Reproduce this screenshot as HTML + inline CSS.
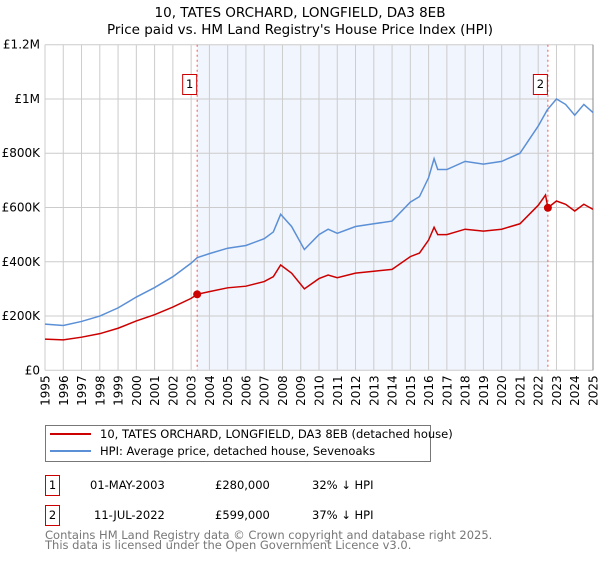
<!DOCTYPE html>
<html><head><meta charset="utf-8"><style>
body{margin:0;background:#fff;font-family:"DejaVu Sans","Liberation Sans",sans-serif;}
svg text{font-family:"DejaVu Sans","Liberation Sans",sans-serif;}
</style></head><body>
<svg id="c" width="600" height="560" xmlns="http://www.w3.org/2000/svg">
<text x="300" y="17" text-anchor="middle" font-size="13.5">10, TATES ORCHARD, LONGFIELD, DA3 8EB</text>
<text x="300" y="34" text-anchor="middle" font-size="13.5">Price paid vs. HM Land Registry's House Price Index (HPI)</text>
<g id="plot"></g>
<g>
<rect x="45.5" y="425.5" width="385" height="36" fill="#fff" stroke="#777"/>
<line x1="50" y1="434" x2="91" y2="434" stroke="#cc0000" stroke-width="2"/>
<text x="100" y="438" font-size="11.5">10, TATES ORCHARD, LONGFIELD, DA3 8EB (detached house)</text>
<line x1="50" y1="451" x2="91" y2="451" stroke="#5b8fd6" stroke-width="2"/>
<text x="100" y="455" font-size="11.5">HPI: Average price, detached house, Sevenoaks</text>
</g>
<g font-size="11.5">
<rect x="45.5" y="475.5" width="14" height="20" fill="none" stroke="#cc0000"/>
<text x="52.5" y="489" text-anchor="middle">1</text>
<text x="90" y="489">01-MAY-2003</text>
<text x="215" y="489">£280,000</text>
<text x="312" y="489">32% ↓ HPI</text>
<rect x="45.5" y="505.5" width="14" height="20" fill="none" stroke="#cc0000"/>
<text x="52.5" y="519" text-anchor="middle">2</text>
<text x="94" y="519">11-JUL-2022</text>
<text x="215" y="519">£599,000</text>
<text x="312" y="519">37% ↓ HPI</text>
</g>
<text x="45" y="539" font-size="11.5" fill="#777">Contains HM Land Registry data © Crown copyright and database right 2025.</text>
<text x="45" y="549" font-size="11.5" fill="#777">This data is licensed under the Open Government Licence v3.0.</text>
</svg>
<script>
const hpiYears=[1995,1996,1997,1998,1999,2000,2001,2002,2003,2003.33,2004,2005,2006,2007,2007.5,2007.9,2008.5,2009.2,2010,2010.5,2011,2012,2013,2014,2015,2015.5,2016,2016.3,2016.5,2017,2018,2019,2020,2021,2021.5,2022,2022.5,2023,2023.5,2024,2024.5,2025];
const hpiValues=[170,165,180,200,230,270,305,345,395,415,430,450,460,485,510,575,530,445,500,520,505,530,540,550,620,640,710,780,740,740,770,760,770,800,850,900,960,1000,980,940,980,950];
const priceYears=[1995,1996,1997,1998,1999,2000,2001,2002,2003,2003.33,2004,2005,2006,2007,2007.5,2007.9,2008.5,2009.2,2010,2010.5,2011,2012,2013,2014,2015,2015.5,2016,2016.3,2016.5,2017,2018,2019,2020,2021,2021.5,2022,2022.4,2022.53,2023,2023.5,2024,2024.5,2025];
const priceValues=[115,112,122,135,155,182,205,233,265,280,290,304,310,327,345,388,358,300,338,351,341,358,365,372,419,432,480,527,500,500,520,513,520,540,574,608,646,599,624,612,587,612,593];
const sales=[{n:"1",year:2003.33,value:280},{n:"2",year:2022.53,value:599}];
const yTicks=[0,200,400,600,800,1000,1200];
const yTickLabels=["£0","£200K","£400K","£600K","£800K","£1M","£1.2M"];
const x0=45,x1=593,yb=370.3,yt=44.7;
const X=y=>x0+(y-1995)/30*(x1-x0);
const Y=v=>yb-v/1200*(yb-yt);
const NS="http://www.w3.org/2000/svg";
const g=document.getElementById('plot');
function mk(t,a){const e=document.createElementNS(NS,t);for(const k in a)e.setAttribute(k,a[k]);g.appendChild(e);return e;}
const sh=mk('rect',{x:X(sales[0].year),y:yt,width:X(sales[1].year)-X(sales[0].year),height:yb-yt,fill:'#eef3fc',opacity:0.8});


for(let yr=1995;yr<=2025;yr++){
 const l=mk('line',{x1:X(yr),x2:X(yr),y1:yt,y2:yb,stroke:'#cccccc','stroke-width':1});
 
 
 const tx=X(yr)+4.5, ty=yb+5;
 const t=mk('text',{x:tx,y:ty,'font-size':12,'text-anchor':'end',transform:'rotate(-90,'+tx+','+ty+')'});
 t.textContent=yr;
 
 
}
yTicks.forEach((v,i)=>{
 const l=mk('line',{x1:x0,x2:x1,y1:Y(v),y2:Y(v),stroke:'#cccccc','stroke-width':1});
 
 
 const t=mk('text',{x:x0-5,y:Y(v)+4,'font-size':12,'text-anchor':'end'});
 t.textContent=yTickLabels[i];
 
 
});
const rb=mk('line',{x1:x1,x2:x1,y1:yt,y2:yb,stroke:'#888','stroke-width':1});


sales.forEach(s=>{
 const l=mk('line',{x1:X(s.year),x2:X(s.year),y1:yt,y2:yb,stroke:'#ee5555','stroke-width':1,'stroke-dasharray':'2,3'});
 
 
 const r=mk('rect',{x:X(s.year)-14.5,y:74.5,width:14,height:20,fill:'#fff',stroke:'#cc0000'});
 
 
 const t=mk('text',{x:X(s.year)-7.5,y:88,'font-size':11.5,'text-anchor':'middle'});
 t.textContent=s.n;
 
 
});
const hp=mk('polyline',{points:hpiYears.map((y,i)=>X(y)+','+Y(hpiValues[i])).join(' '),fill:'none',stroke:'#5b8fd6','stroke-width':1.5});


const pp=mk('polyline',{points:priceYears.map((y,i)=>X(y)+','+Y(priceValues[i])).join(' '),fill:'none',stroke:'#cc0000','stroke-width':1.5});


sales.forEach(s=>{
 const c=mk('circle',{cx:X(s.year),cy:Y(s.value),r:4,fill:'#cc0000'});
 
 
});
</script>
</body></html>
